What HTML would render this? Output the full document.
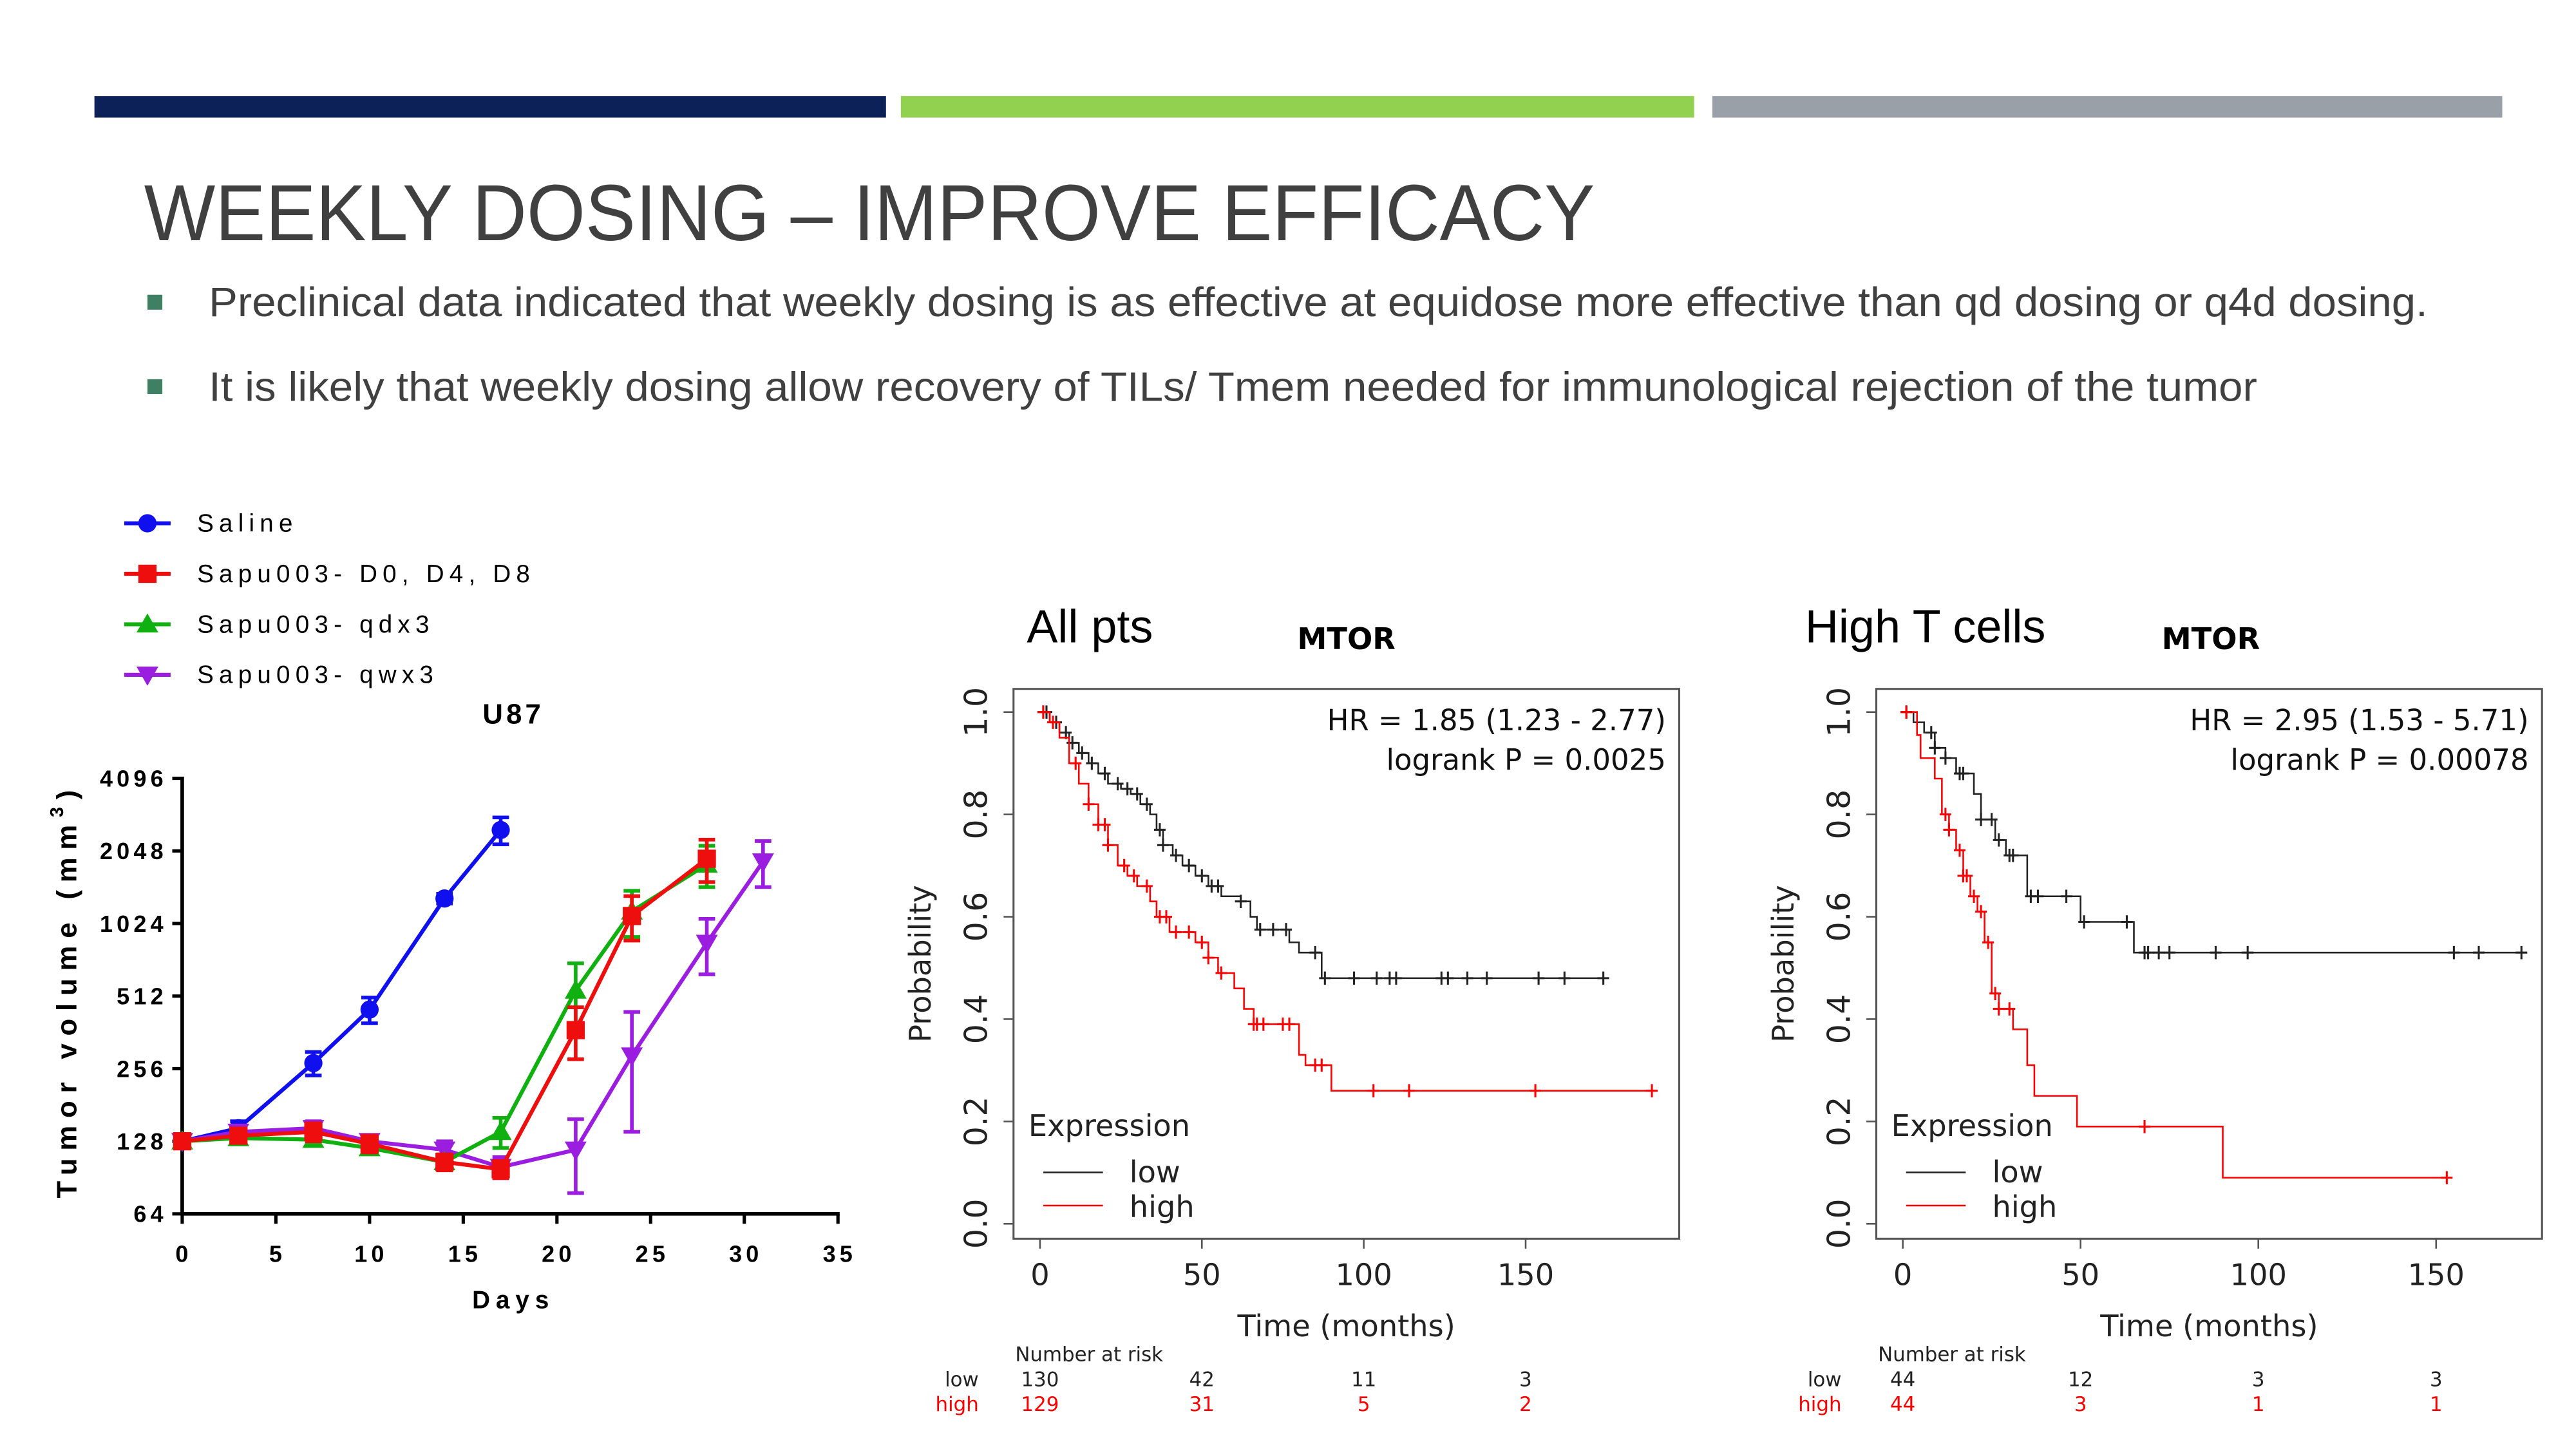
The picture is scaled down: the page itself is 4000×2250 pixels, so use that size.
<!DOCTYPE html>
<html><head><meta charset="utf-8"><style>
html,body{margin:0;padding:0;background:#fff;}
svg{display:block;}
</style></head><body>
<svg id="root" width="4000" height="2250" viewBox="0 0 1555.5 875" xmlns="http://www.w3.org/2000/svg">
<rect x="57" y="58" width="478" height="13" fill="#0b2158"/>
<rect x="544" y="58" width="479" height="13" fill="#92d050"/>
<rect x="1034" y="58" width="477" height="13" fill="#9aa0a8"/>
<text x="87" y="145" font-family="Liberation Sans, Arial, sans-serif" font-size="48" fill="#404040" textLength="876" lengthAdjust="spacingAndGlyphs">WEEKLY DOSING – IMPROVE EFFICACY</text>
<rect x="89" y="178" width="9" height="9" fill="#3f7f64"/>
<text x="126" y="191" font-family="Liberation Sans, Arial, sans-serif" font-size="25" fill="#404040" textLength="1340" lengthAdjust="spacingAndGlyphs">Preclinical data indicated that weekly dosing is as effective at equidose more effective than qd dosing or q4d dosing.</text>
<rect x="89" y="229" width="9" height="9" fill="#3f7f64"/>
<text x="126" y="242" font-family="Liberation Sans, Arial, sans-serif" font-size="25" fill="#404040" textLength="1237" lengthAdjust="spacingAndGlyphs">It is likely that weekly dosing allow recovery of TILs/ Tmem needed for immunological rejection of the tumor</text>
<g id="tumor"></g>
<g id="km1"></g>
<g id="km2"></g>
</svg>
<script>
// ---- Tumor chart data ----
const days = [0,3,7,10,14,17,21,24,28,31];
const salineVals = [128,145,270,450,1300,2500];
const salineErr = [8,10,30,55,60,320];
const redVals = [128,135,140,125,105,98,370,1100,1900];
const redErr = [8,8,12,10,8,8,90,230,380];
const greenVals = [128,132,130,120,105,140,540,1150,1800];
const greenErr = [6,6,6,6,6,20,160,250,350];
const purpleVals = [128,140,145,128,118,100,118,290,850,1850];
const purpleErr = [6,8,10,8,10,10,40,150,220,400];
const yTicks = [64,128,256,512,1024,2048,4096];
const xTicks = [0,5,10,15,20,25,30,35];
const seriesNames = ["Saline","Sapu003- D0, D4, D8","Sapu003- qdx3","Sapu003- qwx3"];

// ---- KM data: All pts ----
const km1LowT = [0,3,6,9,12,15,18,21,25,28,31,34,36,38,41,44,48,52,56,62,65,67,77,80,87];
const km1LowS = [1,0.98,0.96,0.94,0.92,0.9,0.88,0.86,0.85,0.84,0.82,0.8,0.77,0.74,0.72,0.7,0.68,0.66,0.64,0.63,0.6,0.575,0.55,0.53,0.48];
const km1LowEnd = 175;
const km1LowCens = [1,2,5,8,10,13,16,20,24,27,30,33,37,38,42,46,50,53,55,62,68,72,76,85,88,97,104,108,110,124,126,132,138,154,162,174];
const km1HighT = [0,3,6,9,12,15,18,21,24,27,30,34,36,40,48,52,55,60,63,66,80,82,90];
const km1HighS = [1,0.98,0.95,0.9,0.86,0.82,0.78,0.74,0.7,0.68,0.66,0.63,0.6,0.57,0.55,0.52,0.49,0.46,0.42,0.39,0.33,0.31,0.26];
const km1HighEnd = 190;
const km1HighCens = [1,4,11,15,18,20,21,26,29,33,37,39,42,46,50,52,56,66,67,69,75,77,85,87,103,114,153,189];
const km1AtRiskLow = ["130","42","11","3"];
const km1AtRiskHigh = ["129","31","5","2"];
// ---- KM data: High T cells ----
const km2LowT = [0,3,6,9,12,15,20,22,26,29,35,50,65];
const km2LowS = [1,0.98,0.96,0.93,0.91,0.88,0.84,0.79,0.75,0.72,0.64,0.59,0.53];
const km2LowEnd = 175;
const km2LowCens = [1,8,9,12,16,17,22,25,27,30,31,36,38,46,51,63,68,69,72,75,88,97,155,162,174];
const km2HighT = [0,4,5,9,11,13,15,17,19,21,23,25,27,31,35,37,49,90];
const km2HighS = [1,0.955,0.91,0.87,0.8,0.77,0.73,0.68,0.64,0.61,0.55,0.45,0.42,0.38,0.31,0.25,0.19,0.09];
const km2HighEnd = 153;
const km2HighCens = [1,12,13,16,17,18,20,22,24,26,27,30,68,153];
const km2AtRiskLow = ["44","12","3","3"];
const km2AtRiskHigh = ["44","3","1","1"];
const kmXTicks = [0,50,100,150];
const kmYTicks = [0,0.2,0.4,0.6,0.8,1.0];

const NS = "http://www.w3.org/2000/svg";
function mk(parent, tag, attrs, txt){
  const e = document.createElementNS(NS, tag);
  for (const k in attrs) e.setAttribute(k, attrs[k]);
  if (txt !== undefined) e.textContent = txt;
  parent.appendChild(e);
  return e;
}

// ---- Tumor chart ----
(function(){
  const g = document.getElementById('tumor');
  const X0=110, X1=506, Y0=733, Y1=470;
  const xs = d => X0 + (d/35)*(X1-X0);
  const ys = v => Y0 - (Math.log2(v)-6)/6*(Y0-Y1);
  const F = '"Liberation Sans",Arial,sans-serif';
  let e;
  e = mk(g,'line',{x1:X0,y1:Y1-1,x2:X0,y2:Y0,stroke:'#000','stroke-width':2.2});
   
  e = mk(g,'line',{x1:X0,y1:Y0,x2:X1+1,y2:Y0,stroke:'#000','stroke-width':2.2});
   
  yTicks.forEach(v=>{
    mk(g,'line',{x1:X0-6,y1:ys(v),x2:X0,y2:ys(v),stroke:'#000','stroke-width':2});
    e = mk(g,'text',{x:X0-9,y:ys(v)+5,'text-anchor':'end','font-family':F,'font-weight':'bold','font-size':14,'letter-spacing':2.4},String(v));
     
  });
  xTicks.forEach(v=>{
    mk(g,'line',{x1:xs(v),y1:Y0,x2:xs(v),y2:Y0+6,stroke:'#000','stroke-width':2});
    e = mk(g,'text',{x:xs(v)+1,y:Y0+29,'text-anchor':'middle','font-family':F,'font-weight':'bold','font-size':14,'letter-spacing':2.4},String(v));
     
  });
  e = mk(g,'text',{x:310,y:790,'text-anchor':'middle','font-family':F,'font-weight':'bold','font-size':15,'letter-spacing':3.5},'Days');
   
  e = mk(g,'text',{x:310,y:437,'text-anchor':'middle','font-family':F,'font-weight':'bold','font-size':17,'letter-spacing':2},'U87');
   
  e = mk(g,'text',{transform:'translate(46,598) rotate(-90)','text-anchor':'middle','font-family':F,'font-weight':'bold','font-size':17,'letter-spacing':4.6},'');
  e.innerHTML = 'Tumor volume (mm<tspan dy="-8" font-size="11">3</tspan><tspan dy="8">)</tspan>';
   

  const series = [
    {vals:salineVals, err:salineErr, col:'#1010ee', m:'circle', name:'saline'},
    {vals:purpleVals, err:purpleErr, col:'#9b1ee0', m:'tri-down', name:'qwx3'},
    {vals:greenVals, err:greenErr, col:'#10b010', m:'tri-up', name:'qdx3'},
    {vals:redVals, err:redErr, col:'#ee0e0e', m:'square', name:'d0-d4-d8'}
  ];
  function marker(parent, m, x, y, col, s){
    if (m==='circle') return mk(parent,'circle',{cx:x,cy:y,r:s,fill:col});
    if (m==='square') return mk(parent,'rect',{x:x-s,y:y-s,width:2*s,height:2*s,fill:col});
    if (m==='tri-up') return mk(parent,'polygon',{points:`${x},${y-s*1.2} ${x-s*1.2},${y+s*0.9} ${x+s*1.2},${y+s*0.9}`,fill:col});
    return mk(parent,'polygon',{points:`${x},${y+s*1.2} ${x-s*1.2},${y-s*0.9} ${x+s*1.2},${y-s*0.9}`,fill:col});
  }
  series.forEach(s=>{
    const sg = mk(g,'g',{});
     
    const pts = s.vals.map((v,i)=>xs(days[i])+','+ys(v)).join(' ');
    e = mk(sg,'polyline',{points:pts,fill:'none',stroke:s.col,'stroke-width':2.4});
     
    s.vals.forEach((v,i)=>{
      const x=xs(days[i]), yt=ys(v+s.err[i]), yb=ys(Math.max(v-s.err[i],1));
      e = mk(sg,'path',{d:`M${x},${yt}V${yb}M${x-5},${yt}H${x+5}M${x-5},${yb}H${x+5}`,stroke:s.col,'stroke-width':2.2,fill:'none'});
       
      e = marker(sg,s.m,x,ys(v),s.col,5.5);
       
    });
  });
  const legCols = ['#1010ee','#ee0e0e','#10b010','#9b1ee0'];
  const legM = ['circle','square','tri-up','tri-down'];
  seriesNames.forEach((n,i)=>{
    const y = 316 + i*30.5;
    const lg = mk(g,'g',{});
     
    mk(lg,'line',{x1:75,y1:y,x2:103,y2:y,stroke:legCols[i],'stroke-width':2.4});
    marker(lg,legM[i],89,y,legCols[i],5.5);
    mk(lg,'text',{x:119,y:y+5,'font-family':F,'font-size':15,'letter-spacing':3.2},n);
  });
})();

// ---- KM plots ----
function drawKM(gid, o){
  const g = document.getElementById(gid);
  const F = '"DejaVu Sans","Liberation Sans",sans-serif';
  const xs = t => o.x0 + t*o.kx;
  const ys = p => 739 - p*309;
  let e;
  e = mk(g,'text',{x:o.titleX,y:388,'font-family':'"Liberation Sans",Arial,sans-serif','font-size':28},o.title);
   
  e = mk(g,'text',{x:o.mtorX,y:392,'text-anchor':'middle','font-family':F,'font-weight':'bold','font-size':18},'MTOR');
   
  e = mk(g,'rect',{x:o.bl,y:416,width:o.br-o.bl,height:332,fill:'none',stroke:'#555','stroke-width':1.2});
   
  kmYTicks.forEach(p=>{
    mk(g,'line',{x1:o.bl-6,y1:ys(p),x2:o.bl,y2:ys(p),stroke:'#555','stroke-width':1});
    e = mk(g,'text',{transform:`translate(${o.bl-16},${ys(p)}) rotate(-90)`,'text-anchor':'middle','font-family':F,'font-size':19,fill:'#222'},p.toFixed(1));
     
  });
  kmXTicks.forEach(t=>{
    mk(g,'line',{x1:xs(t),y1:748,x2:xs(t),y2:754,stroke:'#555','stroke-width':1});
    e = mk(g,'text',{x:xs(t),y:776,'text-anchor':'middle','font-family':F,'font-size':18,fill:'#222'},String(t));
     
  });
  e = mk(g,'text',{x:(o.bl+o.br)/2,y:807,'text-anchor':'middle','font-family':F,'font-size':18,fill:'#222'},'Time (months)');
   
  e = mk(g,'text',{transform:`translate(${o.bl-50},582) rotate(-90)`,'text-anchor':'middle','font-family':F,'font-size':18,fill:'#222'},'Probability');
   
  e = mk(g,'text',{x:o.br-8,y:441,'text-anchor':'end','font-family':F,'font-size':17.5,fill:'#111'},o.hr);
   
  e = mk(g,'text',{x:o.br-8,y:465,'text-anchor':'end','font-family':F,'font-size':17.5,fill:'#111'},o.p);
   
  e = mk(g,'text',{x:o.bl+9,y:686,'font-family':F,'font-size':18,fill:'#222'},'Expression');
   
  const lg1 = mk(g,'g',{});  
  mk(lg1,'line',{x1:o.bl+18,y1:708,x2:o.bl+54,y2:708,stroke:'#222','stroke-width':1});
  mk(lg1,'text',{x:o.bl+70,y:714,'font-family':F,'font-size':18,fill:'#222'},'low');
  const lg2 = mk(g,'g',{});  
  mk(lg2,'line',{x1:o.bl+18,y1:728,x2:o.bl+54,y2:728,stroke:'#f00','stroke-width':1});
  mk(lg2,'text',{x:o.bl+70,y:735,'font-family':F,'font-size':18,fill:'#222'},'high');
  function curve(T,S,end,cens,col,name){
    let d = `M${xs(T[0])},${ys(S[0])}`;
    for (let i=1;i<T.length;i++){ d += `H${xs(T[i])}V${ys(S[i])}`; }
    d += `H${xs(end)}`;
    e = mk(g,'path',{d:d,fill:'none',stroke:col,'stroke-width':1});
     
    cens.forEach(c=>{
      let k=0; for (let i=0;i<T.length;i++) if (T[i]<=c) k=i;
      const x=xs(c), y=ys(S[k]);
      e = mk(g,'path',{d:`M${x-3.5},${y}H${x+3.5}M${x},${y-4}V${y+4}`,stroke:col,'stroke-width':1.2});
       
    });
  }
  curve(o.lowT,o.lowS,o.lowEnd,o.lowC,'#222','low');
  curve(o.highT,o.highS,o.highEnd,o.highC,'#f00','high');
  e = mk(g,'text',{x:o.bl+1,y:822,'font-family':F,'font-size':12,fill:'#222'},'Number at risk');
   
  e = mk(g,'text',{x:o.riskLabelX,y:837,'text-anchor':'end','font-family':F,'font-size':12,fill:'#222'},'low');
   
  e = mk(g,'text',{x:o.riskLabelX,y:852,'text-anchor':'end','font-family':F,'font-size':12,fill:'#f00'},'high');
   
  kmXTicks.forEach((t,i)=>{
    e = mk(g,'text',{x:xs(t),y:837,'text-anchor':'middle','font-family':F,'font-size':12,fill:'#222'},o.arLow[i]);
     
    e = mk(g,'text',{x:xs(t),y:852,'text-anchor':'middle','font-family':F,'font-size':12,fill:'#f00'},o.arHigh[i]);
     
  });
}
drawKM('km1',{x0:628,kx:1.955,bl:612,br:1014,title:'All pts',titleX:620,mtorX:813,
  hr:'HR = 1.85 (1.23 - 2.77)',p:'logrank P = 0.0025',riskLabelX:591,
  lowT:km1LowT,lowS:km1LowS,lowEnd:km1LowEnd,lowC:km1LowCens,
  highT:km1HighT,highS:km1HighS,highEnd:km1HighEnd,highC:km1HighCens,
  arLow:km1AtRiskLow,arHigh:km1AtRiskHigh});
drawKM('km2',{x0:1149,kx:2.147,bl:1133,br:1535,title:'High T cells',titleX:1090,mtorX:1335,
  hr:'HR = 2.95 (1.53 - 5.71)',p:'logrank P = 0.00078',riskLabelX:1112,
  lowT:km2LowT,lowS:km2LowS,lowEnd:km2LowEnd,lowC:km2LowCens,
  highT:km2HighT,highS:km2HighS,highEnd:km2HighEnd,highC:km2HighCens,
  arLow:km2AtRiskLow,arHigh:km2AtRiskHigh});
</script>
</body></html>
